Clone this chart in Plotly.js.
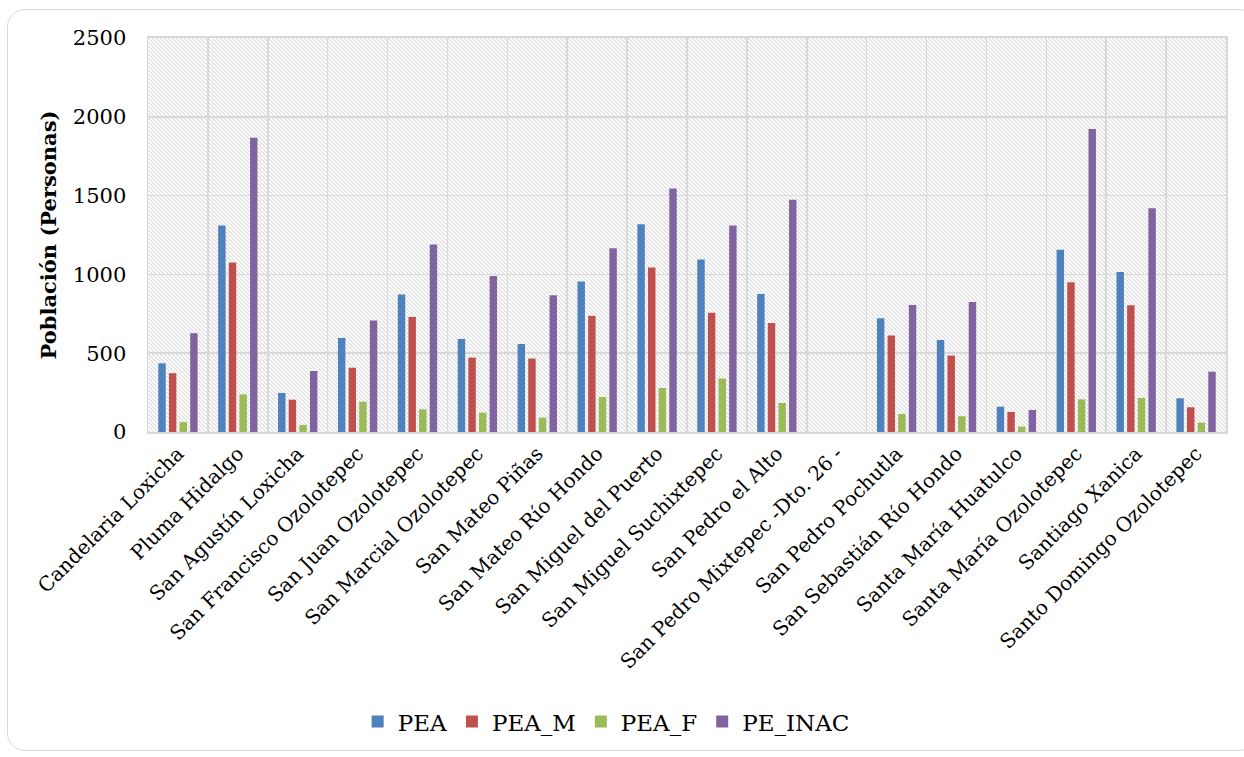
<!DOCTYPE html>
<html>
<head>
<meta charset="utf-8">
<script src="https://cdn.plot.ly/plotly-3.0.1.min.js"></script>
<style>
  html, body { margin: 0; padding: 0; background: #fff; }
  #wrap { position: relative; width: 1244px; height: 757px; overflow: hidden; }
  #frame { position: absolute; left: 7px; top: 9px; width: 1250px; height: 742px;
           border: 1.5px solid #d9d9d9; border-radius: 18px; box-sizing: border-box; }
  #hatch { position: absolute; left: 148px; top: 38px; width: 1078px; height: 394px;
           background-image: url("data:image/svg+xml;utf8,<svg xmlns='http://www.w3.org/2000/svg' width='4' height='4' shape-rendering='crispEdges'><rect x='0' y='0' width='1' height='1' fill='%23d9d9d9'/><rect x='1' y='1' width='1' height='1' fill='%23d9d9d9'/><rect x='2' y='2' width='1' height='1' fill='%23d9d9d9'/><rect x='3' y='3' width='1' height='1' fill='%23d9d9d9'/><rect x='1' y='0' width='1' height='1' fill='%23f0f0f0'/><rect x='2' y='1' width='1' height='1' fill='%23f0f0f0'/><rect x='3' y='2' width='1' height='1' fill='%23f0f0f0'/><rect x='0' y='3' width='1' height='1' fill='%23f0f0f0'/></svg>");
           background-repeat: repeat; }
  #chart { position: absolute; left: 0; top: 0; width: 1244px; height: 757px; }
</style>
</head>
<body>
<div id="wrap">
  <div id="frame"></div>
  <div id="hatch"></div>
  <div id="chart"></div>
</div>
<script>
const categories = [
  "Candelaria Loxicha", "Pluma Hidalgo", "San Agustín Loxicha", "San Francisco Ozolotepec",
  "San Juan Ozolotepec", "San Marcial Ozolotepec", "San Mateo Piñas", "San Mateo Río Hondo",
  "San Miguel del Puerto", "San Miguel Suchixtepec", "San Pedro el Alto",
  "San Pedro Mixtepec -Dto. 26 -", "San Pedro Pochutla", "San Sebastián Río Hondo",
  "Santa María Huatulco", "Santa María Ozolotepec", "Santiago Xanica", "Santo Domingo Ozolotepec"
];
const PEA     = [436, 1310, 248, 597, 872, 590, 559, 955, 1319, 1094, 876, null, 722, 584, 161, 1156, 1016, 214];
const PEA_M   = [373, 1075, 205, 408, 730, 472, 466, 737, 1043, 756, 692, null, 612, 485, 127, 950, 804, 157];
const PEA_F   = [63, 239, 44, 192, 144, 123, 91, 222, 279, 339, 184, null, 114, 100, 34, 207, 216, 59];
const PE_INAC = [627, 1867, 387, 707, 1189, 990, 868, 1166, 1545, 1310, 1473, null, 806, 825, 140, 1922, 1420, 383];

const seriesNames = ["PEA", "PEA_M", "PEA_F", "PE_INAC"];
const seriesValues = [PEA, PEA_M, PEA_F, PE_INAC];
const seriesColors = ["#4f81bd", "#c0504d", "#9bbb59", "#8064a2"];

const serif = "DejaVu Serif, Liberation Serif, serif";

const traces = seriesNames.map((n, i) => ({
  type: "bar",
  name: n,
  x: categories,
  y: seriesValues[i],
  marker: { color: seriesColors[i] }
}));

const layout = {
  width: 1244, height: 757,
  margin: { l: 148, r: 18, t: 38, b: 325 },
  paper_bgcolor: "rgba(0,0,0,0)",
  plot_bgcolor: "rgba(0,0,0,0)",
  barmode: "group",
  bargap: 0.29,
  bargroupgap: 0.3,
  font: { family: serif, color: "#000", size: 18 },
  showlegend: true,
  legend: {
    orientation: "h", x: 0.425, xanchor: "center", y: -0.735, yanchor: "middle",
    font: { family: serif, size: 23, color: "#000" },
    itemwidth: 30, traceorder: "normal"
  },
  xaxis: {
    type: "category",
    tickangle: -45,
    tickson: "boundaries",
    ticks: "",
    showgrid: true, gridcolor: "#d9d9d9", gridwidth: 1.5,
    showline: true, linecolor: "#d9d9d9", linewidth: 2, mirror: true,
    tickfont: { family: serif, size: 20, color: "#000" },
    automargin: false
  },
  yaxis: {
    range: [0, 2500], dtick: 500, tick0: 0,
    showgrid: true, gridcolor: "#d9d9d9", gridwidth: 1.5,
    showline: true, linecolor: "#d9d9d9", linewidth: 1.5, mirror: true,
    zeroline: false,
    ticks: "outside", ticklen: 16, tickcolor: "rgba(0,0,0,0)",
    tickfont: { family: serif, size: 21, color: "#000" },
    title: { text: "<b>Población (Personas)</b>", font: { family: serif, size: 21, color: "#000" }, standoff: 10 },
    automargin: false
  }
};

Plotly.newPlot("chart", traces, layout, { staticPlot: true, displayModeBar: false });
</script>
</body>
</html>
